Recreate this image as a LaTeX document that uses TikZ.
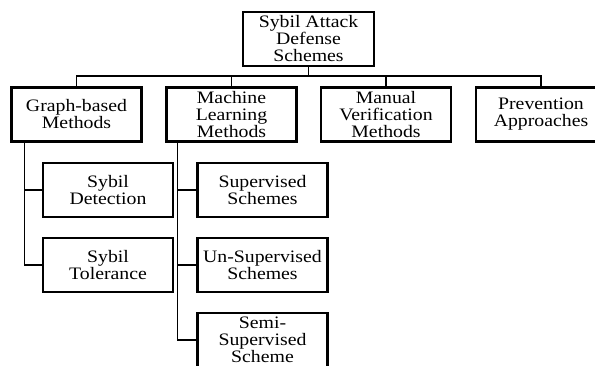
\documentclass[tikz,border=0pt]{standalone}
\usepackage{fontspec}
\setmainfont[FakeStretch=1.13]{Liberation Serif}
\usepackage{tikz}

\tikzset{
  scheme/.style={draw, line width=2.6pt, fill=white, align=center, inner sep=0pt,
    minimum width=130pt, minimum height=54pt, font=\fontsize{17.5}{17}\selectfont},
  link/.style={line width=1.3pt}
}

\begin{document}
\begin{tikzpicture}[x=1pt, y=-1pt]
  \useasboundingbox (0,0) rectangle (595,365);
  \clip (0,0) rectangle (595,365);
  % root
  \node[scheme, minimum width=131pt] (root) at (308.5,39) {Sybil Attack\\Defense\\Schemes};
  % first level
  \node[scheme] (graph) at (76.5,114.5) {Graph-based\\Methods};
  \node[scheme] (ml) at (231.5,114.5) {Machine\\Learning\\Methods};
  \node[scheme] (manual) at (386,114.5) {Manual\\Verification\\Methods};
  \node[scheme] (prev) at (541,114.5) {Prevention\\Approaches};
  % second level
  \node[scheme] (detect) at (108,190) {Sybil\\Detection};
  \node[scheme] (toler) at (108,265) {Sybil\\Tolerance};
  \node[scheme] (sup) at (262.5,190) {Supervised\\Schemes};
  \node[scheme] (unsup) at (262.5,265) {Un-Supervised\\Schemes};
  \node[scheme] (semi) at (262.5,340) {Semi-\\Supervised\\Scheme};
  % connectors
  \coordinate (bus) at (308.5,76);
  \draw[link] (root.south) -- (bus);
  \foreach \n in {graph, ml, manual, prev}
    \draw[link] (bus) -| (\n.north);
  \foreach \n in {detect, toler}
    \draw[link] ([xshift=14pt]graph.south west) |- (\n.west);
  \foreach \n in {sup, unsup, semi}
    \draw[link] ([xshift=12pt]ml.south west) |- (\n.west);
\end{tikzpicture}
\end{document}
